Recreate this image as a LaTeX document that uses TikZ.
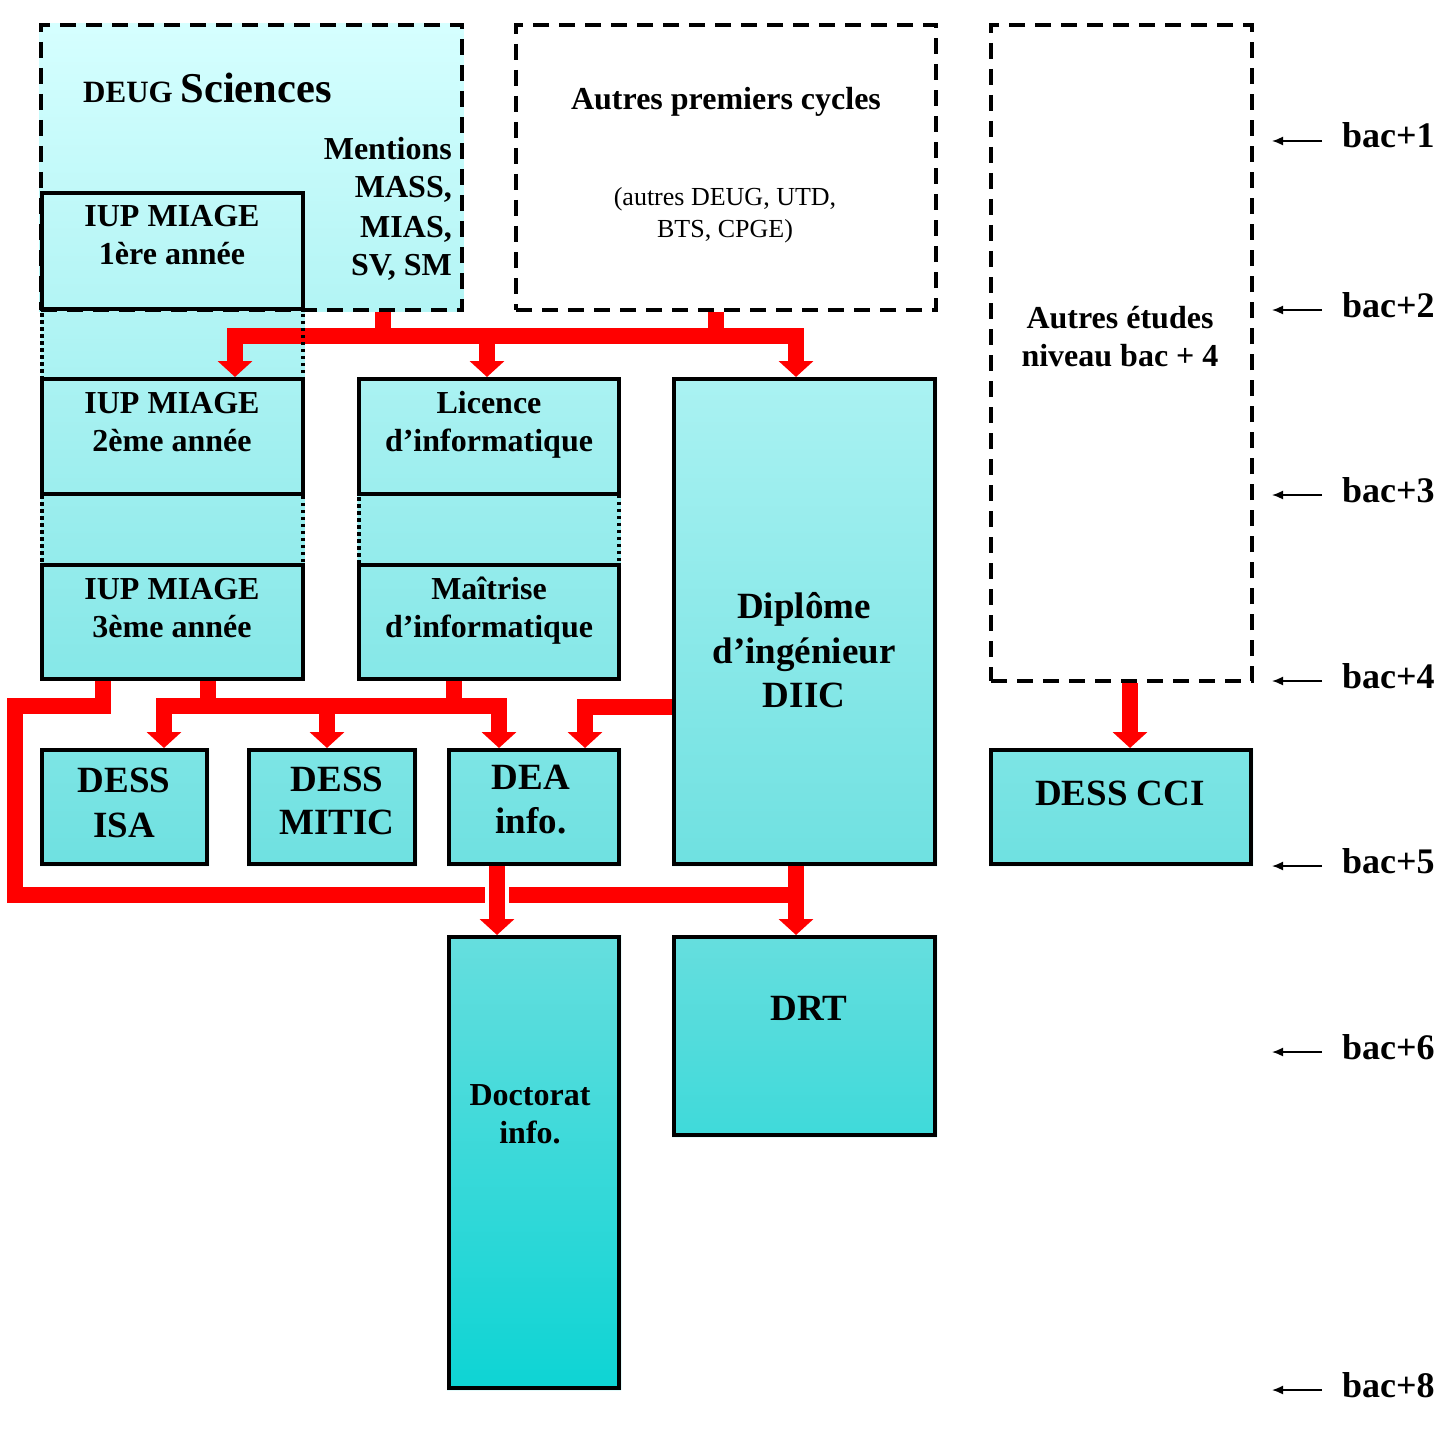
\documentclass[tikz,border=0pt]{standalone}
\usepackage{fontspec}
\setmainfont{Liberation Serif}
\usetikzlibrary{arrows.meta,fit}
\definecolor{gtop}{RGB}{214,255,255}
\definecolor{gmid}{RGB}{102,222,222}
\definecolor{gbot}{RGB}{13,212,212}
\pgfdeclarelayer{background}
\pgfdeclarelayer{conn}
\pgfsetlayers{background,conn,main}
\begin{document}
\begin{tikzpicture}[x=1pt,y=-1pt,
  solidbox/.style={draw=black, line width=4pt, inner sep=0pt},
  dashbox/.style={draw=black, line width=3.5pt, dash pattern=on 16pt off 10pt, inner sep=0pt},
  dotbox/.style={draw=black, line width=3.5pt, dash pattern=on 3.5pt off 3.5pt, inner sep=0pt},
  redline/.style={draw=red, line width=16pt, line join=miter},
  redarrow/.style={redline, -{Triangle[width=34pt,length=16pt]}},
  bacarrow/.style={draw=black, line width=1.6pt, -{Latex[length=11pt,width=9pt]}},
  t32/.style={font=\bfseries\fontsize{32}{38}\selectfont, inner sep=0pt, anchor=base},
  t37/.style={font=\bfseries\fontsize{37}{44}\selectfont, inner sep=0pt, anchor=base},
  t36/.style={font=\bfseries\fontsize{36}{42}\selectfont, inner sep=0pt, anchor=base west},
  r25/.style={font=\fontsize{26}{30}\selectfont, inner sep=0pt, anchor=base},
]
\useasboundingbox (0,0) rectangle (1439,1439);

% dashed and dotted frames
\node[dashbox, fit={(41,25) (462,310)}] (deug) {};
\node[dashbox, fit={(516,25) (936,310)}] (autres1) {};
\node[dashbox, fit={(991,25) (1252,681)}] (autres2) {};
\node[dotbox, fit={(42,309) (303,679)}] (colA) {};
\node[dotbox, fit={(359,379) (619,679)}] (colB) {};

% solid boxes
\node[solidbox, fit={(42,193) (303,309)}] (iup1) {};
\node[solidbox, fit={(42,379) (303,494)}] (iup2) {};
\node[solidbox, fit={(42,565) (303,679)}] (iup3) {};
\node[solidbox, fit={(359,379) (619,494)}] (licence) {};
\node[solidbox, fit={(359,565) (619,679)}] (maitrise) {};
\node[solidbox, fit={(674,379) (935,864)}] (diic) {};
\node[solidbox, fit={(42,750) (207,864)}] (isa) {};
\node[solidbox, fit={(249,750) (415,864)}] (mitic) {};
\node[solidbox, fit={(449,750) (619,864)}] (dea) {};
\node[solidbox, fit={(991,750) (1251,864)}] (cci) {};
\node[solidbox, fit={(449,937) (619,1388)}] (doct) {};
\node[solidbox, fit={(674,937) (935,1135)}] (drt) {};

% gradient fill
\begin{pgfonlayer}{background}
\begin{scope}
\clip (deug.north west) rectangle (deug.south east)
      (colA.north west) rectangle (colA.south east)
      (colB.north west) rectangle (colB.south east)
      (diic.north west) rectangle (diic.south east)
      (isa.north west) rectangle (isa.south east)
      (mitic.north west) rectangle (mitic.south east)
      (dea.north west) rectangle (dea.south east)
      (cci.north west) rectangle (cci.south east)
      (doct.north west) rectangle (doct.south east)
      (drt.north west) rectangle (drt.south east);
\shade[top color=gtop, bottom color=gmid] (0,20) rectangle (1439,935);
\shade[top color=gmid, bottom color=gbot] (0,935) rectangle (1439,1392);
\end{scope}
\end{pgfonlayer}

% texts
\node[anchor=base west, inner sep=0pt] (tdeug) at (83,103)
  {\bfseries\fontsize{31}{36}\selectfont DEUG \fontsize{42.5}{48}\selectfont Sciences};
\node[t32, anchor=base east] (tm1) at (452,160) {Mentions};
\node[t32, anchor=base east] (tm2) at (452,198) {MASS,};
\node[t32, anchor=base east] (tm3) at (452,238) {MIAS,};
\node[t32, anchor=base east] (tm4) at (452,275) {SV, SM};

\node[t32] (ti1a) at (172,227) {IUP MIAGE};
\node[t32] (ti1b) at (172,265) {1ère année};
\node[t32] (ti2a) at (172,413) {IUP MIAGE};
\node[t32] (ti2b) at (172,451) {2ème année};
\node[t32] (ti3a) at (172,599) {IUP MIAGE};
\node[t32] (ti3b) at (172,637) {3ème année};

\node[t32] (tla) at (489,413) {Licence};
\node[t32] (tlb) at (489,451) {d’informatique};
\node[t32] (tma) at (489,599) {Maîtrise};
\node[t32] (tmb) at (489,637) {d’informatique};

\node[t32] (ta1) at (726,110) {Autres premiers cycles};
\node[r25] (ta1b) at (725,206) {(autres DEUG, UTD,};
\node[r25] (ta1c) at (725,237) {BTS, CPGE)};

\node[t32] (ta2a) at (1120,328) {Autres études};
\node[t32] (ta2b) at (1120,366) {niveau bac + 4};

\node[t37] (tda) at (804,618) {Diplôme};
\node[t37] (tdb) at (804,663) {d’ingénieur};
\node[t37] (tdc) at (804,707) {DIIC};

\node[t37] (tisa1) at (124,792) {DESS};
\node[t37] (tisa2) at (124,837) {ISA};
\node[t37] (tmit1) at (337,791) {DESS};
\node[t37] (tmit2) at (337,834) {MITIC};
\node[t37] (tdea1) at (531,789) {DEA};
\node[t37] (tdea2) at (531,833) {info.};
\node[t37] (tcci) at (1120,805) {DESS CCI};
\node[t32] (tdoc1) at (530,1105) {Doctorat};
\node[t32] (tdoc2) at (530,1143) {info.};
\node[t37] (tdrt) at (809,1020) {DRT};

% bac levels
\foreach \n/\yy in {1/141,2/310,3/495,4/681,5/866,6/1052,8/1390}{
  \node[t36] (bac\n) at (1342,\yy+7) {bac+\n};
  \coordinate (bs\n) at (1322,\yy);
  \coordinate (be\n) at (1272,\yy);
  \draw[bacarrow] (bs\n) -- (be\n);
}

% red connectors
\begin{pgfonlayer}{conn}
\coordinate (jt1) at (383,336);
\coordinate (jt2) at (716,336);
\coordinate (bl) at (235,336);
\coordinate (bm) at (487,336);
\coordinate (br) at (796,336);
\draw[redline] (deug.south -| jt1) -- (jt1);
\draw[redline] (autres1.south -| jt2) -- (jt2);
\draw[redline, line cap=rect] (bl) -- (br);
\draw[redarrow] (bl) -- (iup2.north -| bl);
\draw[redarrow] (bm) -- (licence.north -| bm);
\draw[redarrow] (br) -- (diic.north -| br);

\coordinate (m1) at (208,706);
\coordinate (m2) at (454,706);
\coordinate (ml) at (164,706);
\coordinate (mc) at (327,706);
\coordinate (mr) at (499,706);
\draw[redline] (iup3.south -| m1) -- (m1);
\draw[redline] (maitrise.south -| m2) -- (m2);
\draw[redline, line cap=rect] (ml) -- (mr);
\draw[redarrow] (ml) -- (isa.north -| ml);
\draw[redarrow] (mc) -- (mitic.north -| mc);
\draw[redarrow] (mr) -- (dea.north -| mr);

\coordinate (d1) at (585,707);
\draw[redarrow] (diic.west |- d1) -- (d1) -- (dea.north -| d1);

\coordinate (l1) at (103,706);
\coordinate (l2) at (15,706);
\coordinate (l3) at (15,895);
\coordinate (l4) at (796,895);
\draw[redline] (iup3.south -| l1) -- (l1) -- (l2) -- (l3) -- (l4);
\draw[redarrow] (diic.south -| l4) -- (drt.north -| l4);

\coordinate (dd) at (497,895);
\draw[redarrow, preaction={draw=white, line width=24pt, -}] (dea.south -| dd) -- (doct.north -| dd);

\coordinate (cc) at (1130,715);
\draw[redarrow] (autres2.south -| cc) -- (cci.north -| cc);
\end{pgfonlayer}
\end{tikzpicture}
\end{document}
